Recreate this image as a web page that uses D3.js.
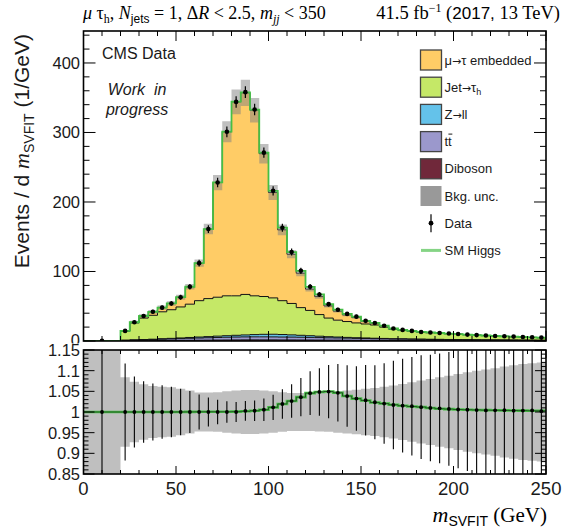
<!DOCTYPE html>
<html>
<head>
<meta charset="utf-8">
<script src="https://cdn.jsdelivr.net/npm/d3@7"></script>
<style>
  body { margin: 0; background: #fff; }
  svg { display: block; }
</style>
</head>
<body>
<svg id="chart" width="564" height="531"></svg>
<script>
// m_SVFIT binning (GeV): one wide bin 0-20, then 5 GeV bins up to 250
const binEdges = [0, 20, 25, 30, 35, 40, 45, 50, 55, 60, 65, 70, 75, 80, 85, 90, 95, 100,
  105, 110, 115, 120, 125, 130, 135, 140, 145, 150, 155, 160, 165, 170, 175, 180,
  185, 190, 195, 200, 205, 210, 215, 220, 225, 230, 235, 240, 245, 250];

// Events / GeV per bin
const dataVals = [0.3, 14.5, 27, 36, 42, 48, 54, 63, 78, 112, 161, 228, 301, 344, 358, 333,
  271, 216, 163, 128, 101, 78, 67, 53, 45, 39, 35, 29, 26, 22, 18, 16, 14.5, 13, 12.3,
  11.5, 10.7, 10.0, 9.2, 8.5, 7.9, 7.3, 6.8, 6.3, 5.8, 5.3, 4.9];

const diboson = [0.01, 0.3, 0.4, 0.5, 0.6, 0.7, 0.8, 0.9, 1.0, 1.1, 1.2, 1.3, 1.4, 1.5, 1.6,
  1.6, 1.6, 1.6, 1.5, 1.5, 1.4, 1.4, 1.3, 1.2, 1.2, 1.1, 1.0, 1.0, 0.9, 0.9, 0.8, 0.8, 0.7,
  0.7, 0.6, 0.6, 0.6, 0.5, 0.5, 0.5, 0.4, 0.4, 0.4, 0.4, 0.3, 0.3, 0.3];

const ttbar = [0.02, 0.6, 0.9, 1.1, 1.4, 1.8, 2.1, 2.5, 2.9, 3.2, 3.5, 3.8, 4.0, 4.2, 4.3,
  4.4, 4.4, 4.3, 4.2, 4.1, 4.0, 3.8, 3.6, 3.4, 3.2, 3.0, 2.8, 2.6, 2.4, 2.2, 2.0, 1.9, 1.8,
  1.7, 1.6, 1.5, 1.4, 1.4, 1.3, 1.2, 1.2, 1.1, 1.0, 0.9, 0.9, 0.8, 0.7];

const zll = [0.02, 0.3, 0.4, 0.5, 0.6, 0.8, 0.9, 1.0, 1.2, 1.4, 1.6, 1.9, 2.2, 2.5, 2.8,
  3.2, 3.6, 3.8, 3.6, 3.2, 2.8, 2.4, 2.0, 1.6, 1.3, 1.1, 0.9, 0.8, 0.7, 0.6, 0.5, 0.5, 0.4,
  0.3, 0.3, 0.3, 0.2, 0.2, 0.2, 0.1, 0.1, 0.1, 0.1, 0.1, 0.1, 0.1, 0.1];

const jetFakes = [0.2, 12.8, 24.3, 30.9, 34.4, 38.7, 41.2, 44.6, 47.9, 52.3, 54.7, 56.0,
  57.4, 56.8, 58.3, 55.8, 54.4, 52.3, 48.7, 45.2, 39.8, 36.4, 31.1, 26.8, 24.3, 22.8, 21.3,
  20.1, 19.0, 16.3, 13.7, 11.8, 10.9, 9.9, 9.4, 8.7, 8.2, 7.6, 7.0, 6.5, 6.0, 5.5, 5.1, 4.7,
  4.3, 3.9, 3.6];

const embedded = [0.05, 0.5, 1.0, 3.0, 5.0, 6.0, 9.0, 14, 25, 54, 100, 165, 236, 279, 290,
  267, 205.5, 151.6, 101.9, 70.7, 49.5, 30.6, 25.9, 17.5, 13, 9.55, 7.9, 3.7, 2.4, 1.56,
  0.7, 0.76, 0.5, 0.25, 0.28, 0.3, 0.22, 0.24, 0.15, 0.16, 0.17, 0.17, 0.17, 0.18, 0.18,
  0.18, 0.19];

const smHiggs = [0, 0, 0, 0, 0, 0, 0, 0.01, 0.02, 0.05, 0.08, 0.12, 0.18, 0.3, 0.6, 1.0, 1.5,
  2.4, 3.1, 3.3, 3.5, 3.4, 3.1, 2.5, 2.0, 1.45, 1.1, 0.78, 0.58, 0.44, 0.31, 0.24, 0.19,
  0.155, 0.12, 0.09, 0.075, 0.06, 0.05, 0.042, 0.035, 0.03, 0.026, 0.022, 0.019, 0.016, 0.014];

// relative background uncertainty per bin
const bkgUncRel = [0.6, 0.084, 0.073, 0.067, 0.063, 0.061, 0.060, 0.056, 0.052, 0.047, 0.047,
  0.048, 0.050, 0.052, 0.053, 0.053, 0.052, 0.050, 0.048, 0.046, 0.046, 0.046, 0.047, 0.048,
  0.050, 0.052, 0.054, 0.056, 0.058, 0.061, 0.064, 0.068, 0.072, 0.076, 0.080, 0.084, 0.088,
  0.092, 0.096, 0.100, 0.103, 0.106, 0.110, 0.113, 0.116, 0.118, 0.120];

const xTicksMajor = [0, 50, 100, 150, 200, 250];
const yTicksTop = [0, 100, 200, 300, 400];
const yTicksRatio = [0.85, 0.9, 0.95, 1, 1.05, 1.1, 1.15];
const yTickLabelsRatio = ["0.85", "0.9", "0.95", "1", "1.05", "1.1", "1.15"];

const colors = {
  embedded: "#ffcc66",
  jetFakes: "#c5e867",
  zll: "#64c2ea",
  ttbar: "#9b98cc",
  diboson: "#70283a",
  unc: "#808080",
  higgs: "#45bf45"
};

const SANS = "'Liberation Sans', Arial, Helvetica, sans-serif";
const SERIF = "'Liberation Serif', 'Times New Roman', serif";
const ARROW = "'DejaVu Sans', sans-serif";

const svg = d3.select("#chart");

// ---- scales ----
const L = 83.5, R = 546;
const x = d3.scaleLinear().domain([0, 250]).range([L, R]);
const yTop = d3.scaleLinear().domain([0, 446]).range([341, 31]);
const yRat = d3.scaleLinear().domain([0.85, 1.15]).range([474, 350]);

// ---- derived per-bin rows ----
const rows = dataVals.map((d, i) => {
  const lo = binEdges[i], hi = binEdges[i + 1];
  const bkg = diboson[i] + ttbar[i] + zll[i] + jetFakes[i] + embedded[i];
  const w = hi - lo;
  return {
    lo, hi, data: d, bkg, sig: smHiggs[i],
    dataErr: Math.sqrt(d * w) / w,
    unc: bkgUncRel[i],
    diboson: diboson[i], ttbar: ttbar[i], zll: zll[i], jetFakes: jetFakes[i], embedded: embedded[i]
  };
});

const stackKeys = ["diboson", "ttbar", "zll", "jetFakes", "embedded"];
const stacked = d3.stack().keys(stackKeys)(rows);

function stepPoints(arr, f0, f1) {
  // two points per bin so the path forms a histogram outline
  return arr.flatMap(r => [
    { x: r.lo, y0: f0(r), y1: f1(r) },
    { x: r.hi, y0: f0(r), y1: f1(r) }
  ]);
}

function rich(sel, parts) {
  parts.forEach(p => {
    const ts = sel.append("tspan").text(p.t);
    if (p.it) ts.attr("font-style", "italic");
    if (p.ff) ts.attr("font-family", p.ff);
    if (p.fs) ts.attr("font-size", p.fs);
    if (p.dy) ts.attr("dy", p.dy);
  });
  return sel;
}

// clip paths
const defs = svg.append("defs");
defs.append("clipPath").attr("id", "clipTop").append("rect")
  .attr("x", L).attr("y", 31).attr("width", R - L).attr("height", 310);
defs.append("clipPath").attr("id", "clipRat").append("rect")
  .attr("x", L).attr("y", 350).attr("width", R - L).attr("height", 124);
// the upper pad ends where the ratio pad begins
defs.append("clipPath").attr("id", "clipUpperPad").append("rect")
  .attr("x", 0).attr("y", 0).attr("width", 564).attr("height", 343.5);

// ================= TOP PANEL =================
const gTop = svg.append("g").attr("clip-path", "url(#clipTop)");

const areaTop = d3.area().x(p => x(p.x)).y0(p => yTop(p.y0)).y1(p => yTop(p.y1));
const lineTop = d3.line().x(p => x(p.x)).y(p => yTop(p.y1));

stacked.forEach(s => {
  const rowsS = s.map((v, i) => ({ lo: rows[i].lo, hi: rows[i].hi, a: v[0], b: v[1] }));
  const pts = stepPoints(rowsS, r => r.a, r => r.b);
  gTop.append("path").attr("d", areaTop(pts)).attr("fill", colors[s.key]).attr("stroke", "none");
});
stacked.forEach(s => {
  const rowsS = s.map((v, i) => ({ lo: rows[i].lo, hi: rows[i].hi, a: v[0], b: v[1] }));
  const pts = stepPoints(rowsS, r => r.a, r => r.b);
  gTop.append("path").attr("d", lineTop(pts)).attr("fill", "none")
    .attr("stroke", "#111").attr("stroke-width", 1);
});

// background uncertainty band
gTop.append("path")
  .attr("d", areaTop(stepPoints(rows, r => r.bkg * (1 - r.unc), r => r.bkg * (1 + r.unc))))
  .attr("fill", colors.unc).attr("fill-opacity", 0.5).attr("stroke", "none");

// SM Higgs on top of the background
gTop.append("path")
  .attr("d", lineTop(stepPoints(rows, r => 0, r => r.bkg + r.sig)))
  .attr("fill", "none").attr("stroke", colors.higgs).attr("stroke-width", 1.8);

// data points
const gData = gTop.append("g");
rows.forEach(r => {
  const cx = x((r.lo + r.hi) / 2);
  gData.append("line").attr("x1", cx).attr("x2", cx)
    .attr("y1", yTop(r.data - r.dataErr)).attr("y2", yTop(r.data + r.dataErr))
    .attr("stroke", "#000").attr("stroke-width", 1.2);
  gData.append("circle").attr("cx", cx).attr("cy", yTop(r.data)).attr("r", 2.3).attr("fill", "#000");
});

// top-panel frame, ticks and labels
const gAx = svg.append("g").attr("stroke", "#000").attr("stroke-width", 1);
function frame(y0, y1) {
  svg.append("rect").attr("x", L).attr("y", y0).attr("width", R - L).attr("height", y1 - y0)
    .attr("fill", "none").attr("stroke", "#000").attr("stroke-width", 1.6);
}
function xTicksFor(g, yEdgeTop, yEdgeBot, majLen, minLen) {
  d3.range(0, 251, 10).forEach(v => {
    const len = v % 50 === 0 ? majLen : minLen;
    const px = x(v);
    g.append("line").attr("x1", px).attr("x2", px).attr("y1", yEdgeTop).attr("y2", yEdgeTop + len);
    g.append("line").attr("x1", px).attr("x2", px).attr("y1", yEdgeBot).attr("y2", yEdgeBot - len);
  });
}
function yTicksFor(g, scale, values, isMajor, majLen, minLen) {
  values.forEach(v => {
    const len = isMajor(v) ? majLen : minLen;
    const py = scale(v);
    g.append("line").attr("x1", L).attr("x2", L + len).attr("y1", py).attr("y2", py);
    g.append("line").attr("x1", R).attr("x2", R - len).attr("y1", py).attr("y2", py);
  });
}
frame(31, 341);
xTicksFor(gAx, 31, 341, 10, 5);
yTicksFor(gAx, yTop, d3.range(0, 441, 20), v => v % 100 === 0, 12, 6);

const gLabTop = svg.append("g").attr("clip-path", "url(#clipUpperPad)")
  .attr("font-family", SANS).attr("fill", "#1a1a1a");
yTicksTop.forEach(v => {
  gLabTop.append("text").attr("x", 80).attr("y", Math.min(yTop(v) + 6, 345.5)).attr("text-anchor", "end")
    .attr("font-size", 16.5).text(v);
});

// ================= RATIO PAD =================
const gRat = svg.append("g").attr("clip-path", "url(#clipRat)");
const areaRat = d3.area().x(p => x(p.x)).y0(p => yRat(p.y0)).y1(p => yRat(p.y1));
const lineRat = d3.line().x(p => x(p.x)).y(p => yRat(p.y1));

gRat.append("path")
  .attr("d", areaRat(stepPoints(rows, r => 1 - r.unc, r => 1 + r.unc)))
  .attr("fill", colors.unc).attr("fill-opacity", 0.5).attr("stroke", "none");

const higgsRatio = stepPoints(rows, r => 1, r => (r.bkg + r.sig) / r.bkg);
gRat.append("path").attr("d", lineRat(higgsRatio)).attr("fill", "none")
  .attr("stroke", colors.higgs).attr("stroke-width", 2.6);
gRat.append("path").attr("d", lineRat(higgsRatio)).attr("fill", "none")
  .attr("stroke", "#1a3a1a").attr("stroke-width", 0.8);

rows.forEach(r => {
  const cx = x((r.lo + r.hi) / 2);
  const rv = r.data / r.bkg, re = r.dataErr / r.bkg;
  gRat.append("line").attr("x1", cx).attr("x2", cx)
    .attr("y1", yRat(rv - re)).attr("y2", yRat(rv + re))
    .attr("stroke", "#000").attr("stroke-width", 1.1);
  gRat.append("circle").attr("cx", cx).attr("cy", yRat(rv)).attr("r", 1.9).attr("fill", "#000");
});

frame(350, 474);
const gAxR = svg.append("g").attr("stroke", "#000").attr("stroke-width", 1);
xTicksFor(gAxR, 350, 474, 8, 4);
yTicksFor(gAxR, yRat, d3.range(0, 31).map(k => 0.85 + k * 0.01),
  v => Math.abs(Math.round(v * 20) - v * 20) < 1e-6, 11, 5);

const gLab = svg.append("g").attr("font-family", SANS).attr("fill", "#1a1a1a");
yTicksRatio.forEach((v, i) => {
  gLab.append("text").attr("x", 80).attr("y", yRat(v) + 6).attr("text-anchor", "end")
    .attr("font-size", 16.5).text(yTickLabelsRatio[i]);
});
xTicksMajor.forEach(v => {
  gLab.append("text").attr("x", x(v)).attr("y", 495).attr("text-anchor", "middle")
    .attr("font-size", 18.5).text(v);
});

// ================= TEXT =================
// header, left
rich(svg.append("text").attr("x", 83).attr("y", 19).attr("font-family", SERIF).attr("font-size", 18), [
  { t: "μ", it: true }, { t: " τ" }, { t: "h", fs: 12, dy: 4 }, { t: ", ", dy: -4 },
  { t: "N", it: true }, { t: "jets", ff: SANS, fs: 12, dy: 4 }, { t: " = 1, Δ", dy: -4 },
  { t: "R", it: true }, { t: " < 2.5, " }, { t: "m", it: true },
  { t: "jj", it: true, fs: 12, dy: 4 }, { t: " < 350", dy: -4 }
]);
// header, right
rich(svg.append("text").attr("x", 560).attr("y", 19).attr("text-anchor", "end")
  .attr("font-family", SERIF).attr("font-size", 18.5), [
  { t: "41.5 fb" }, { t: "−1", fs: 12, dy: -7 }, { t: " (", dy: 7 },
  { t: "2017,", ff: SANS, fs: 17 }, { t: " 13 TeV)" }
]);

// y-axis title
rich(svg.append("text").attr("transform", "translate(29,34) rotate(-90)")
  .attr("text-anchor", "end").attr("font-family", SANS).attr("font-size", 21).attr("fill", "#1a1a1a"), [
  { t: "Events / d " }, { t: "m", ff: SERIF, it: true, fs: 22 },
  { t: "SVFIT", fs: 14, dy: 5 }, { t: " (1/GeV)", dy: -5 }
]);

// x-axis title
rich(svg.append("text").attr("x", 547).attr("y", 522).attr("text-anchor", "end")
  .attr("font-family", SERIF).attr("font-size", 21), [
  { t: "m", it: true, fs: 22 }, { t: "SVFIT", ff: SANS, fs: 14, dy: 4 }, { t: " (GeV)", dy: -4 }
]);

// labels inside the frame
svg.append("text").attr("x", 102).attr("y", 58.5).attr("font-family", SANS)
  .attr("font-size", 16).attr("fill", "#1a1a1a").text("CMS Data");
svg.append("text").attr("x", 137).attr("y", 95).attr("text-anchor", "middle")
  .attr("font-family", SANS).attr("font-style", "italic").attr("font-size", 16)
  .attr("fill", "#1a1a1a").attr("xml:space", "preserve").style("white-space", "pre").text("Work  in");
svg.append("text").attr("x", 137).attr("y", 115).attr("text-anchor", "middle")
  .attr("font-family", SANS).attr("font-style", "italic").attr("font-size", 16)
  .attr("fill", "#1a1a1a").text("progress");

// ================= LEGEND =================
const legendEntries = [
  { kind: "box", fill: colors.embedded, parts: [{ t: "μ" }, { t: "→", ff: ARROW, fs: 11 }, { t: "τ embedded" }] },
  { kind: "box", fill: colors.jetFakes, parts: [{ t: "Jet" }, { t: "→", ff: ARROW, fs: 11 }, { t: "τ" }, { t: "h", fs: 9, dy: 3 }] },
  { kind: "box", fill: colors.zll, parts: [{ t: "Z" }, { t: "→", ff: ARROW, fs: 11 }, { t: "ll" }] },
  { kind: "box", fill: colors.ttbar, parts: [{ t: "tt" }], bar: true },
  { kind: "box", fill: colors.diboson, parts: [{ t: "Diboson" }] },
  { kind: "unc", fill: "#999999", parts: [{ t: "Bkg. unc." }] },
  { kind: "data", parts: [{ t: "Data" }] },
  { kind: "line", parts: [{ t: "SM Higgs" }] }
];
const gLeg = svg.append("g");
legendEntries.forEach((e, i) => {
  const cy = 60 + i * 27.2;
  if (e.kind === "box") {
    gLeg.append("rect").attr("x", 420.5).attr("y", cy - 10).attr("width", 21).attr("height", 20)
      .attr("fill", e.fill).attr("stroke", "#444").attr("stroke-width", 1.3);
  } else if (e.kind === "unc") {
    gLeg.append("rect").attr("x", 420.5).attr("y", cy - 10).attr("width", 21).attr("height", 20)
      .attr("fill", e.fill);
  } else if (e.kind === "data") {
    gLeg.append("line").attr("x1", 431).attr("x2", 431).attr("y1", cy - 9).attr("y2", cy + 9)
      .attr("stroke", "#000").attr("stroke-width", 1.2);
    gLeg.append("circle").attr("cx", 431).attr("cy", cy).attr("r", 2.4).attr("fill", "#000");
  } else {
    gLeg.append("line").attr("x1", 421).attr("x2", 441).attr("y1", cy).attr("y2", cy)
      .attr("stroke", "#85d485").attr("stroke-width", 3);
  }
  const t = rich(gLeg.append("text").attr("x", 444.5).attr("y", cy + 4.5)
    .attr("font-family", SANS).attr("font-size", 13).attr("fill", "#1a1a1a"), e.parts);
  if (e.bar) {
    const w = t.node().getComputedTextLength();
    gLeg.append("line").attr("x1", 444.5 + w / 2 + 0.3).attr("x2", 444.5 + w + 0.6)
      .attr("y1", cy - 7.5).attr("y2", cy - 7.5).attr("stroke", "#1a1a1a").attr("stroke-width", 1);
  }
});
</script>
</body>
</html>
